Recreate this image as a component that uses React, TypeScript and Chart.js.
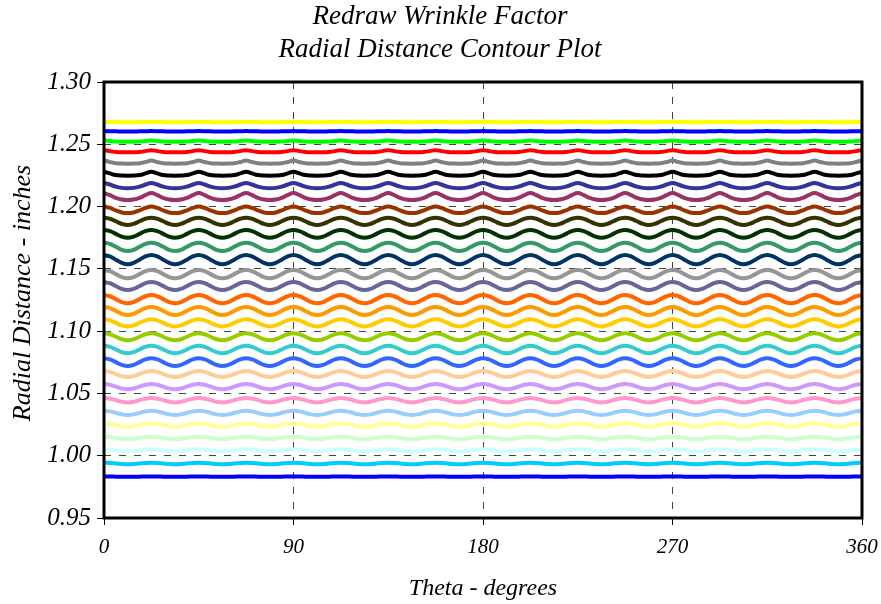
import React, { useEffect, useRef } from "react";
import { Chart, registerables } from "chart.js";

Chart.register(...registerables);

const titleLines = ["Redraw Wrinkle Factor", "Radial Distance Contour Plot"];
const xAxisTitle = "Theta - degrees";
const yAxisTitle = "Radial Distance - inches";

const xTicks = [0, 90, 180, 270, 360];
const yTicks = [0.95, 1.0, 1.05, 1.1, 1.15, 1.2, 1.25, 1.3];

// The contours repeat every 22.5 degrees (16 waves around 360).
const periodDeg = 22.5;
const periodCount = 16;

const seriesColors = [
  "#FFFF00", "#0000FF", "#00FF00", "#FF0000", "#808080", "#000000",
  "#333399", "#993366", "#993300", "#333300", "#003300", "#339966",
  "#003366", "#969696", "#666699", "#FF6600", "#FF9900", "#FFCC00",
  "#99CC00", "#33CCCC", "#3366FF", "#FFCC99", "#CC99FF", "#FF99CC",
  "#99CCFF", "#FFFF99", "#CCFFCC", "#CCFFFF", "#00CCFF", "#0000FF",
];

// Radius read at 0, 2.8125, 5.625, 8.4375, 11.25 deg into each wave (crest -> trough).
const profiles: number[][] = [
  [1.268, 1.2679, 1.2678, 1.2677, 1.2676],
  [1.2606, 1.2605, 1.2604, 1.2603, 1.2602],
  [1.253, 1.2526, 1.2522, 1.2521, 1.2521],
  [1.2453, 1.2445, 1.2439, 1.2436, 1.2436],
  [1.237, 1.2358, 1.2348, 1.2345, 1.2344],
  [1.228, 1.2266, 1.2253, 1.2249, 1.2248],
  [1.219, 1.2177, 1.216, 1.215, 1.2147],
  [1.2108, 1.2092, 1.207, 1.2057, 1.2053],
  [1.2, 1.1989, 1.1969, 1.1953, 1.1948],
  [1.1911, 1.1902, 1.1882, 1.1861, 1.1852],
  [1.1812, 1.1803, 1.1781, 1.1759, 1.175],
  [1.171, 1.17, 1.1677, 1.1653, 1.1643],
  [1.1611, 1.16, 1.1574, 1.1548, 1.1537],
  [1.149, 1.1481, 1.1458, 1.1434, 1.1425],
  [1.1394, 1.1385, 1.1362, 1.1339, 1.133],
  [1.129, 1.128, 1.1257, 1.1233, 1.1223],
  [1.1194, 1.1185, 1.1162, 1.1139, 1.113],
  [1.1095, 1.1087, 1.1067, 1.1046, 1.1038],
  [1.0983, 1.0975, 1.0955, 1.0935, 1.0927],
  [1.0883, 1.0874, 1.0853, 1.0831, 1.0822],
  [1.0782, 1.0773, 1.0751, 1.0729, 1.072],
  [1.068, 1.0673, 1.0656, 1.0639, 1.0632],
  [1.0576, 1.057, 1.0555, 1.054, 1.0534],
  [1.0463, 1.0458, 1.0446, 1.0433, 1.0428],
  [1.0361, 1.0356, 1.0344, 1.0332, 1.0327],
  [1.026, 1.0256, 1.0247, 1.0237, 1.0233],
  [1.0153, 1.015, 1.0143, 1.0135, 1.0132],
  [1.0051, 1.0048, 1.0042, 1.0035, 1.0032],
  [0.9944, 0.9942, 0.9938, 0.9933, 0.9931],
  [0.9833, 0.9833, 0.9832, 0.9832, 0.9832],
];

const FONT_FAMILY = '"Liberation Serif", "Times New Roman", serif';

function buildPoints(profile: number[]) {
  const half = profile.length - 1;
  const perWave = half * 2;
  const step = periodDeg / perWave;
  const pts: { x: number; y: number }[] = [];
  for (let k = 0; k < periodCount; k++) {
    for (let j = 0; j < perWave; j++) {
      const v = j <= half ? profile[j] : profile[perWave - j];
      pts.push({ x: k * periodDeg + j * step, y: v });
    }
  }
  pts.push({ x: periodDeg * periodCount, y: profile[0] });
  return pts;
}

const textPlugin = {
  id: "textPlugin",
  afterDatasetsDraw(chart: any) {
    const { ctx, chartArea } = chart;
    ctx.save();
    ctx.strokeStyle = "#000";
    ctx.lineWidth = 3;
    ctx.strokeRect(
      chartArea.left,
      chartArea.top,
      chartArea.right - chartArea.left,
      chartArea.bottom - chartArea.top
    );
    ctx.restore();
  },
  afterDraw(chart: any) {
    const { ctx, chartArea } = chart;
    ctx.save();
    ctx.fillStyle = "#000";
    ctx.textAlign = "center";
    ctx.textBaseline = "middle";
    ctx.font = `italic 27px ${FONT_FAMILY}`;
    ctx.fillText(titleLines[0], 440, 17);
    ctx.fillText(titleLines[1], 440, 50);
    const cx = (chartArea.left + chartArea.right) / 2;
    ctx.font = `italic 24px ${FONT_FAMILY}`;
    ctx.fillText(xAxisTitle, cx, 589);
    ctx.font = `italic 26px ${FONT_FAMILY}`;
    ctx.translate(23, 293);
    ctx.rotate(-Math.PI / 2);
    ctx.fillText(yAxisTitle, 0, 0);
    ctx.restore();
  },
};

export default function App() {
  const canvasRef = useRef<HTMLCanvasElement>(null);

  useEffect(() => {
    if (!canvasRef.current) return;
    const datasets = profiles.map((p, i) => ({
      label: `Contour ${i + 1}`,
      data: buildPoints(p),
      borderColor: seriesColors[i],
      backgroundColor: seriesColors[i],
      borderWidth: 4,
      pointRadius: 0,
      fill: false,
      tension: 0.4,
    }));
    const gridOpts = {
      color: "#444",
      lineWidth: 1,
      tickLength: 7,
      tickColor: "#000",
      tickWidth: 1,
      tickBorderDash: [],
    };
    const chart = new Chart(canvasRef.current, {
      type: "line",
      data: { datasets },
      options: {
        animation: false,
        responsive: false,
        layout: { padding: { left: 0, top: 82, right: 19, bottom: 46 } },
        plugins: {
          legend: { display: false },
          title: { display: false },
          tooltip: { enabled: false },
        },
        scales: {
          x: {
            type: "linear",
            min: xTicks[0],
            max: xTicks[xTicks.length - 1],
            afterBuildTicks: (s: any) => {
              s.ticks = xTicks.map((v) => ({ value: v }));
            },
            afterFit: (s: any) => {
              s.height = 40;
              s.paddingLeft = 0;
              s.paddingRight = 0;
            },
            ticks: {
              font: { family: FONT_FAMILY, size: 21, style: "italic" as const },
              color: "#000",
              padding: 10,
              maxRotation: 0,
              callback: (v: any) => String(v),
            },
            grid: gridOpts,
            border: { display: false, dash: [7, 8] },
          },
          y: {
            type: "linear",
            min: yTicks[0],
            max: yTicks[yTicks.length - 1],
            afterBuildTicks: (s: any) => {
              s.ticks = yTicks.map((v) => ({ value: v }));
            },
            afterFit: (s: any) => {
              s.width = 104;
              s.paddingTop = 0;
              s.paddingBottom = 0;
            },
            ticks: {
              font: { family: FONT_FAMILY, size: 25, style: "italic" as const },
              color: "#000",
              padding: 6,
              callback: (v: any) => Number(v).toFixed(2),
            },
            grid: gridOpts,
            border: { display: false, dash: [7, 8] },
          },
        },
      },
      plugins: [textPlugin],
    });
    return () => chart.destroy();
  }, []);

  return (
    <div style={{ position: "absolute", left: 0, top: 0, width: 881, height: 604, background: "#fff" }}>
      <canvas ref={canvasRef} width={881} height={604} style={{ display: "block" }} />
    </div>
  );
}
